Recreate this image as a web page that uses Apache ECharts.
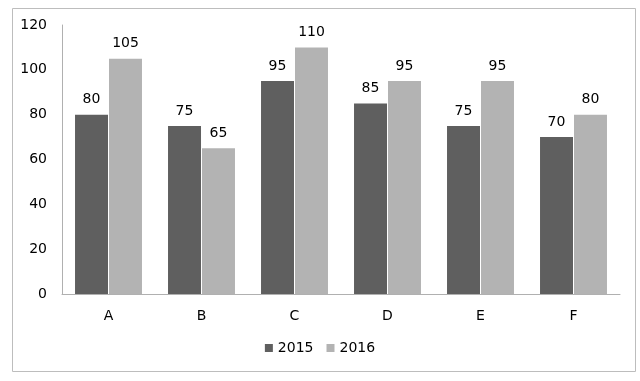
<!DOCTYPE html>
<html><head><meta charset="utf-8">
<script src="https://cdn.jsdelivr.net/npm/echarts@6/dist/echarts.min.js"></script>
<style>html,body{margin:0;padding:0;background:#fff}#c{width:640px;height:381px}</style>
</head><body><div id="c"></div>
<script>
const categories = ['A','B','C','D','E','F'];
const values2015 = [80,75,95,85,75,70];
const values2016 = [105,65,110,95,95,80];
const yTicks = {min:0,max:120,interval:20};
const font = '"DejaVu Sans", sans-serif';
const chart = echarts.init(document.getElementById('c'));
const lbl = {show:true,position:'top',distance:8,color:'#000',fontFamily:font,fontSize:14};
chart.setOption({
  animation:false,
  graphic:[{type:'rect',shape:{x:12.5,y:8.5,width:623,height:363},style:{fill:'none',stroke:'#bdbdbd',lineWidth:1}}],
  grid:{left:62,right:20,top:25,bottom:87},
  legend:{bottom:21,left:'center',itemWidth:8,itemHeight:8,itemGap:13,icon:'rect',
    textStyle:{fontFamily:font,fontSize:14,color:'#000'},data:['2015','2016']},
  xAxis:{type:'category',data:categories,axisTick:{show:false},
    axisLine:{lineStyle:{color:'#b0b0b0'}},
    axisLabel:{fontFamily:font,fontSize:14,color:'#000',margin:15}},
  yAxis:{type:'value',min:yTicks.min,max:yTicks.max,interval:yTicks.interval,
    splitLine:{show:false},axisTick:{show:false},
    axisLine:{show:true,lineStyle:{color:'#b0b0b0'}},
    axisLabel:{fontFamily:font,fontSize:14,color:'#000',margin:15}},
  series:[
    {name:'2015',type:'bar',data:values2015,itemStyle:{color:'#5f5f5f'},barGap:'3%',barCategoryGap:'28%',label:lbl},
    {name:'2016',type:'bar',data:values2016,itemStyle:{color:'#b3b3b3'},label:lbl}
  ]
});
</script></body></html>
